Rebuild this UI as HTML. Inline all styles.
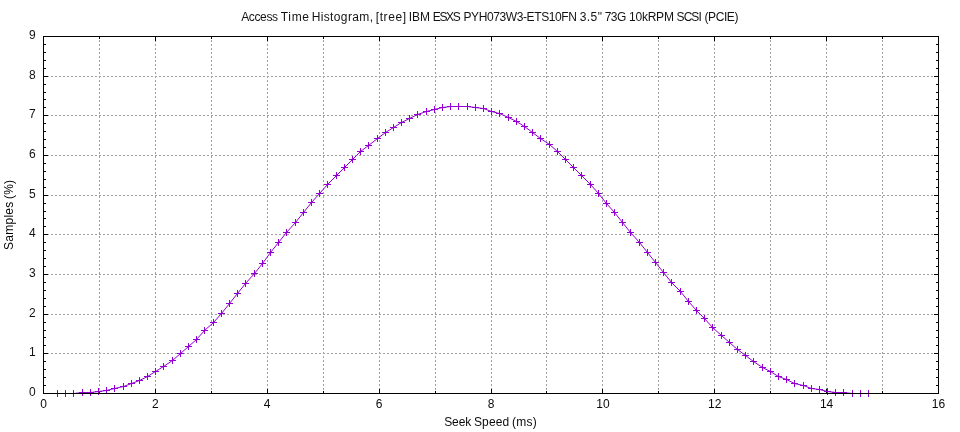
<!DOCTYPE html>
<html lang="en"><head><meta charset="utf-8"><title>Access Time Histogram</title>
<style>html,body{margin:0;padding:0;background:#fff;overflow:hidden}svg{display:block}text{font-family:"Liberation Sans", "Noto Sans CJK JP", sans-serif;font-size:12px;fill:#000}.ti{fill-opacity:.93}.xl{fill-opacity:.955}.yl{fill-opacity:.985}.yt{fill-opacity:.935}.xt{fill-opacity:.96}</style></head><body>
<svg width="960" height="432" viewBox="0 0 960 432">
<rect width="960" height="432" fill="#fff"/>
<g stroke="#a0a0a0" stroke-width="1" stroke-dasharray="2 2" shape-rendering="crispEdges" fill="none">
<line x1="43" y1="353.5" x2="939" y2="353.5"/>
<line x1="43" y1="314.5" x2="939" y2="314.5"/>
<line x1="43" y1="274.5" x2="939" y2="274.5"/>
<line x1="43" y1="234.5" x2="939" y2="234.5"/>
<line x1="43" y1="195.5" x2="939" y2="195.5"/>
<line x1="43" y1="155.5" x2="939" y2="155.5"/>
<line x1="43" y1="115.5" x2="939" y2="115.5"/>
<line x1="43" y1="76.5" x2="939" y2="76.5"/>
<line x1="99.5" y1="394" x2="99.5" y2="36"/>
<line x1="155.5" y1="394" x2="155.5" y2="36"/>
<line x1="211.5" y1="394" x2="211.5" y2="36"/>
<line x1="267.5" y1="394" x2="267.5" y2="36"/>
<line x1="323.5" y1="394" x2="323.5" y2="36"/>
<line x1="379.5" y1="394" x2="379.5" y2="36"/>
<line x1="435.5" y1="394" x2="435.5" y2="36"/>
<line x1="491.5" y1="394" x2="491.5" y2="36"/>
<line x1="546.5" y1="394" x2="546.5" y2="36"/>
<line x1="602.5" y1="394" x2="602.5" y2="36"/>
<line x1="658.5" y1="394" x2="658.5" y2="36"/>
<line x1="714.5" y1="394" x2="714.5" y2="36"/>
<line x1="770.5" y1="394" x2="770.5" y2="36"/>
<line x1="826.5" y1="394" x2="826.5" y2="36"/>
<line x1="882.5" y1="394" x2="882.5" y2="36"/>
</g>
<path d="M44 393.5h4M934 393.5h4M44 385.5h2M936 385.5h2M44 377.5h2M936 377.5h2M44 369.5h2M936 369.5h2M44 361.5h2M936 361.5h2M44 353.5h4M934 353.5h4M44 345.5h2M936 345.5h2M44 337.5h2M936 337.5h2M44 330.5h2M936 330.5h2M44 322.5h2M936 322.5h2M44 314.5h4M934 314.5h4M44 306.5h2M936 306.5h2M44 298.5h2M936 298.5h2M44 290.5h2M936 290.5h2M44 282.5h2M936 282.5h2M44 274.5h4M934 274.5h4M44 266.5h2M936 266.5h2M44 258.5h2M936 258.5h2M44 250.5h2M936 250.5h2M44 242.5h2M936 242.5h2M44 234.5h4M934 234.5h4M44 226.5h2M936 226.5h2M44 218.5h2M936 218.5h2M44 211.5h2M936 211.5h2M44 203.5h2M936 203.5h2M44 195.5h4M934 195.5h4M44 187.5h2M936 187.5h2M44 179.5h2M936 179.5h2M44 171.5h2M936 171.5h2M44 163.5h2M936 163.5h2M44 155.5h4M934 155.5h4M44 147.5h2M936 147.5h2M44 139.5h2M936 139.5h2M44 131.5h2M936 131.5h2M44 123.5h2M936 123.5h2M44 115.5h4M934 115.5h4M44 107.5h2M936 107.5h2M44 99.5h2M936 99.5h2M44 92.5h2M936 92.5h2M44 84.5h2M936 84.5h2M44 76.5h4M934 76.5h4M44 68.5h2M936 68.5h2M44 60.5h2M936 60.5h2M44 52.5h2M936 52.5h2M44 44.5h2M936 44.5h2M44 36.5h4M934 36.5h4M43.5 389v4M43.5 37v4M99.5 391v2M99.5 37v2M155.5 389v4M155.5 37v4M211.5 391v2M211.5 37v2M267.5 389v4M267.5 37v4M323.5 391v2M323.5 37v2M379.5 389v4M379.5 37v4M435.5 391v2M435.5 37v2M491.5 389v4M491.5 37v4M546.5 391v2M546.5 37v2M602.5 389v4M602.5 37v4M658.5 391v2M658.5 37v2M714.5 389v4M714.5 37v4M770.5 391v2M770.5 37v2M826.5 389v4M826.5 37v4M882.5 391v2M882.5 37v2M938.5 389v4M938.5 37v4" stroke="#000" stroke-width="1" fill="none" shape-rendering="crispEdges"/>
<polyline points="57.5,393.5 65.5,393.5 73.5,393.5 82.5,392.5 90.5,392.5 98.5,391.5 106.5,390.5 114.5,388.5 123.5,386.5 131.5,383.5 139.5,380.5 147.5,376.5 155.5,371.5 163.5,366.5 172.5,360.5 180.5,353.5 188.5,346.5 196.5,339.5 204.5,330.5 213.5,322.5 221.5,313.5 229.5,303.5 237.5,293.5 245.5,283.5 254.5,273.5 262.5,263.5 270.5,252.5 278.5,242.5 286.5,232.5 295.5,222.5 303.5,212.5 311.5,202.5 319.5,193.5 327.5,184.5 336.5,175.5 344.5,167.5 352.5,159.5 360.5,151.5 368.5,145.5 377.5,138.5 385.5,132.5 393.5,127.5 401.5,122.5 409.5,118.5 417.5,114.5 426.5,111.5 434.5,109.5 442.5,107.5 450.5,106.5 458.5,106.5 467.5,106.5 475.5,107.5 483.5,108.5 491.5,111.5 499.5,113.5 508.5,117.5 516.5,121.5 524.5,126.5 532.5,132.5 540.5,138.5 549.5,144.5 557.5,151.5 565.5,159.5 573.5,167.5 581.5,175.5 590.5,184.5 598.5,193.5 606.5,203.5 614.5,212.5 622.5,222.5 630.5,232.5 639.5,242.5 647.5,252.5 655.5,262.5 663.5,272.5 671.5,282.5 680.5,291.5 688.5,301.5 696.5,310.5 704.5,318.5 712.5,327.5 721.5,335.5 729.5,342.5 737.5,349.5 745.5,355.5 753.5,361.5 762.5,367.5 770.5,371.5 778.5,376.5 786.5,379.5 794.5,383.5 803.5,385.5 811.5,388.5 819.5,389.5 827.5,391.5 835.5,392.5 843.5,392.5 852.5,393.5 860.5,393.5 868.5,393.5" fill="none" stroke="#9400d3" stroke-width="1" stroke-linejoin="round"/>
<path d="M54 393.5h7M57.5 390v7M62 393.5h7M65.5 390v7M70 393.5h7M73.5 390v7M79 392.5h7M82.5 389v7M87 392.5h7M90.5 389v7M95 391.5h7M98.5 388v7M103 390.5h7M106.5 387v7M111 388.5h7M114.5 385v7M120 386.5h7M123.5 383v7M128 383.5h7M131.5 380v7M136 380.5h7M139.5 377v7M144 376.5h7M147.5 373v7M152 371.5h7M155.5 368v7M160 366.5h7M163.5 363v7M169 360.5h7M172.5 357v7M177 353.5h7M180.5 350v7M185 346.5h7M188.5 343v7M193 339.5h7M196.5 336v7M201 330.5h7M204.5 327v7M210 322.5h7M213.5 319v7M218 313.5h7M221.5 310v7M226 303.5h7M229.5 300v7M234 293.5h7M237.5 290v7M242 283.5h7M245.5 280v7M251 273.5h7M254.5 270v7M259 263.5h7M262.5 260v7M267 252.5h7M270.5 249v7M275 242.5h7M278.5 239v7M283 232.5h7M286.5 229v7M292 222.5h7M295.5 219v7M300 212.5h7M303.5 209v7M308 202.5h7M311.5 199v7M316 193.5h7M319.5 190v7M324 184.5h7M327.5 181v7M333 175.5h7M336.5 172v7M341 167.5h7M344.5 164v7M349 159.5h7M352.5 156v7M357 151.5h7M360.5 148v7M365 145.5h7M368.5 142v7M374 138.5h7M377.5 135v7M382 132.5h7M385.5 129v7M390 127.5h7M393.5 124v7M398 122.5h7M401.5 119v7M406 118.5h7M409.5 115v7M414 114.5h7M417.5 111v7M423 111.5h7M426.5 108v7M431 109.5h7M434.5 106v7M439 107.5h7M442.5 104v7M447 106.5h7M450.5 103v7M455 106.5h7M458.5 103v7M464 106.5h7M467.5 103v7M472 107.5h7M475.5 104v7M480 108.5h7M483.5 105v7M488 111.5h7M491.5 108v7M496 113.5h7M499.5 110v7M505 117.5h7M508.5 114v7M513 121.5h7M516.5 118v7M521 126.5h7M524.5 123v7M529 132.5h7M532.5 129v7M537 138.5h7M540.5 135v7M546 144.5h7M549.5 141v7M554 151.5h7M557.5 148v7M562 159.5h7M565.5 156v7M570 167.5h7M573.5 164v7M578 175.5h7M581.5 172v7M587 184.5h7M590.5 181v7M595 193.5h7M598.5 190v7M603 203.5h7M606.5 200v7M611 212.5h7M614.5 209v7M619 222.5h7M622.5 219v7M627 232.5h7M630.5 229v7M636 242.5h7M639.5 239v7M644 252.5h7M647.5 249v7M652 262.5h7M655.5 259v7M660 272.5h7M663.5 269v7M668 282.5h7M671.5 279v7M677 291.5h7M680.5 288v7M685 301.5h7M688.5 298v7M693 310.5h7M696.5 307v7M701 318.5h7M704.5 315v7M709 327.5h7M712.5 324v7M718 335.5h7M721.5 332v7M726 342.5h7M729.5 339v7M734 349.5h7M737.5 346v7M742 355.5h7M745.5 352v7M750 361.5h7M753.5 358v7M759 367.5h7M762.5 364v7M767 371.5h7M770.5 368v7M775 376.5h7M778.5 373v7M783 379.5h7M786.5 376v7M791 383.5h7M794.5 380v7M800 385.5h7M803.5 382v7M808 388.5h7M811.5 385v7M816 389.5h7M819.5 386v7M824 391.5h7M827.5 388v7M832 392.5h7M835.5 389v7M840 392.5h7M843.5 389v7M849 393.5h7M852.5 390v7M857 393.5h7M860.5 390v7M865 393.5h7M868.5 390v7" stroke="#9400d3" stroke-width="1" fill="none" shape-rendering="crispEdges"/>
<rect x="43.5" y="36.5" width="895" height="357" fill="none" stroke="#000" stroke-width="1" shape-rendering="crispEdges"/>
<text class="yt" x="35.6" y="395.9" text-anchor="end">0</text>
<text class="yt" x="35.6" y="355.9" text-anchor="end">1</text>
<text class="yt" x="35.6" y="316.9" text-anchor="end">2</text>
<text class="yt" x="35.6" y="276.9" text-anchor="end">3</text>
<text class="yt" x="35.6" y="236.9" text-anchor="end">4</text>
<text class="yt" x="35.6" y="197.9" text-anchor="end">5</text>
<text class="yt" x="35.6" y="157.9" text-anchor="end">6</text>
<text class="yt" x="35.6" y="117.9" text-anchor="end">7</text>
<text class="yt" x="35.6" y="78.9" text-anchor="end">8</text>
<text class="yt" x="35.6" y="38.9" text-anchor="end">9</text>
<text class="xt" x="43.5" y="408" text-anchor="middle">0</text>
<text class="xt" x="155.4" y="408" text-anchor="middle">2</text>
<text class="xt" x="267.2" y="408" text-anchor="middle">4</text>
<text class="xt" x="379.1" y="408" text-anchor="middle">6</text>
<text class="xt" x="491.0" y="408" text-anchor="middle">8</text>
<text class="xt" x="602.9" y="408" text-anchor="middle">10</text>
<text class="xt" x="714.8" y="408" text-anchor="middle">12</text>
<text class="xt" x="826.6" y="408" text-anchor="middle">14</text>
<text class="xt" x="938.5" y="408" text-anchor="middle">16</text>
<text class="ti" y="20.8"><tspan x="241.18" textLength="36.84" lengthAdjust="spacing">Access</tspan> <tspan x="280.73" textLength="28.25" lengthAdjust="spacing">Time</tspan> <tspan x="311.68" textLength="61.31" lengthAdjust="spacing">Histogram,</tspan> <tspan x="375.70" textLength="30.47" lengthAdjust="spacing">[tree]</tspan> <tspan x="408.87" textLength="21.16" lengthAdjust="spacing">IBM</tspan> <tspan x="432.73" textLength="28.08" lengthAdjust="spacing">ESXS</tspan> <tspan x="463.51" textLength="113.42" lengthAdjust="spacing">PYH073W3-ETS10FN</tspan> <tspan x="579.64" textLength="22.36" lengthAdjust="spacing">3.5&quot;</tspan> <tspan x="604.70" textLength="21.59" lengthAdjust="spacing">73G</tspan> <tspan x="629.00" textLength="44.91" lengthAdjust="spacing">10kRPM</tspan> <tspan x="676.60" textLength="25.16" lengthAdjust="spacing">SCSI</tspan> <tspan x="704.46" textLength="33.95" lengthAdjust="spacing">(PCIE)</tspan></text>
<text class="xl" y="425.8"><tspan x="444.16" textLength="27.08" lengthAdjust="spacing">Seek</tspan> <tspan x="473.95" textLength="35.34" lengthAdjust="spacing">Speed</tspan> <tspan x="511.99" textLength="24.84" lengthAdjust="spacing">(ms)</tspan></text>
<text class="yl" transform="translate(13.2 214.9) rotate(-90)" y="0"><tspan x="-35.01" textLength="48.14" lengthAdjust="spacing">Samples</tspan> <tspan x="15.84" textLength="19.17" lengthAdjust="spacing">(%)</tspan></text>
</svg></body></html>
